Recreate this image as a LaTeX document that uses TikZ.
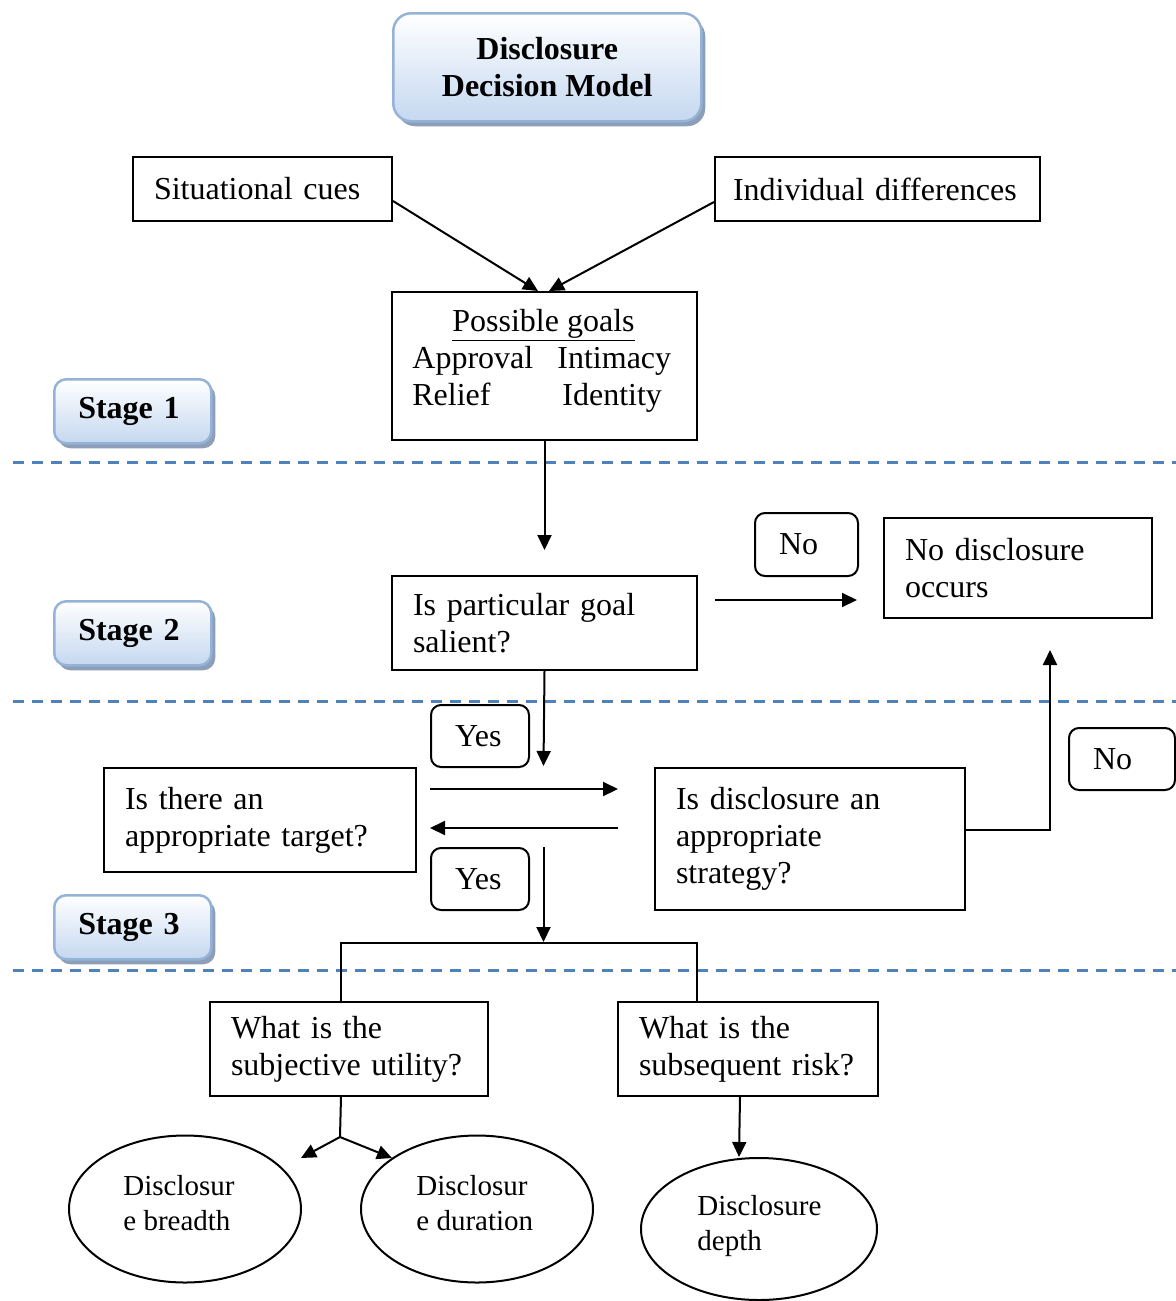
\documentclass[tikz,border=0pt]{standalone}
\usepackage{fontspec}
\setmainfont{Liberation Serif}
\usetikzlibrary{arrows.meta,shapes.geometric,shadows,calc}
\definecolor{dashblue}{RGB}{79,129,189}
\definecolor{edgeblue}{RGB}{149,179,215}
\definecolor{fillblue}{RGB}{197,216,240}
\definecolor{shadowc}{RGB}{140,158,184}
\begin{document}
\begin{tikzpicture}[x=0.5pt,y=-0.5pt,
  every node/.style={font=\fontsize{16}{18.5}\selectfont},
  box/.style={draw, line width=1pt, rectangle, anchor=north west, inner xsep=10.5pt, inner ysep=0pt, align=left,
    execute at begin node={\hyphenpenalty=10000\relax}},
  tag/.style={box, rounded corners=5pt, inner xsep=12pt},
  fancy/.style={draw=edgeblue, line width=1.25pt, rounded corners=#1, top color=white, bottom color=fillblue,
    drop shadow={shadow xshift=2pt,shadow yshift=-2.5pt,fill=shadowc,opacity=1},
    anchor=north west, font=\fontsize{16}{18.5}\selectfont\bfseries},
  oval/.style={draw, line width=1pt, ellipse, inner sep=0pt},
  ovaltext/.style={inner sep=0pt, font=\fontsize{14.5}{17.5}\selectfont, align=left},
  conn/.style={line width=1pt},
  arr/.style={conn, -{Triangle[length=7.5pt,width=7pt]}},
  sep/.style={dashblue, line width=1.5pt, dash pattern=on 5.5pt off 4pt}
]
\useasboundingbox (0,0) rectangle (1176,1301);

% separators
\draw[sep] (13,462) -- (1176,462);
\draw[sep] (13,701) -- (1176,701);
\draw[sep] (13,970) -- (1176,970);

% title and stages
\node[fancy=9pt, minimum width=154pt, minimum height=54pt, align=center, inner sep=0pt] (title) at (392,12) {Disclosure\\Decision Model};
\node[fancy=6pt, minimum height=32pt, inner xsep=12pt, inner ysep=0pt, text width=54.5pt, align=left] (st1) at (53,378) {Stage 1};
\node[fancy=6pt, minimum height=32pt, inner xsep=12pt, inner ysep=0pt, text width=54.5pt, align=left] (st2) at (53,600) {Stage 2};
\node[fancy=6pt, minimum height=32pt, inner xsep=12pt, inner ysep=0pt, text width=54.5pt, align=left] (st3) at (53,894) {Stage 3};

% boxes
\node[box, text width=108.5pt, minimum height=32pt] (sit) at (132,156) {Situational cues};
\node[box, inner xsep=9pt, text width=144.5pt, minimum height=32pt] (ind) at (714,156) {Individual differences};
\node[box, inner sep=0pt, minimum width=152.5pt, minimum height=74pt] (goals) at (391,291) {};
\node[anchor=base, inner sep=0pt] (pg) at (543.5,331) {\underline{Possible goals}};
\node[anchor=base west, inner sep=0pt] (g1) at (412,368) {Approval};
\node[anchor=base west, inner sep=0pt] (g2) at (557,368) {Intimacy};
\node[anchor=base west, inner sep=0pt] (g3) at (412,405) {Relief};
\node[anchor=base west, inner sep=0pt] (g4) at (562,405) {Identity};

\node[box, text width=131.5pt, minimum height=47pt] (sal) at (391,575) {Is particular goal\\salient?};
\node[box, text width=113pt, minimum height=50pt] (nod) at (883,517) {No disclosure\\occurs};
\node[box, text width=135pt, minimum height=52pt] (tgt) at (103,767) {Is there an\\appropriate target?};
\node[box, text width=134pt, minimum height=71pt] (strat) at (654,767) {Is disclosure an\\appropriate\\strategy?};
\node[box, text width=118pt, minimum height=47pt] (util) at (209,1001) {What is the\\subjective utility?};
\node[box, text width=109pt, minimum height=47pt] (risk) at (617,1001) {What is the\\subsequent risk?};

% tags
\node[tag, text width=27.5pt, minimum height=31.5pt] (no1) at (754,512) {No};
\node[tag, text width=29pt, minimum height=31pt] (no2) at (1068,727) {No};
\node[tag, text width=25pt, minimum height=31pt] (yes1) at (430,704) {Yes};
\node[tag, text width=25pt, minimum height=31pt] (yes2) at (430,847) {Yes};

% ellipses
\node[oval, minimum width=116pt, minimum height=73.5pt] (breadth) at (185,1209) {};
\node[ovaltext, anchor=west] (breadthT) at (123,1203) {Disclosur\\e breadth};
\node[oval, minimum width=116pt, minimum height=73.5pt] (duration) at (477,1209) {};
\node[ovaltext, anchor=west] (durationT) at (416,1203) {Disclosur\\e duration};
\node[oval, minimum width=118pt, minimum height=71pt] (depth) at (759,1229) {};
\node[ovaltext, anchor=west] (depthT) at (697,1226) {Disclosure\\depth};

% connectors
\draw[arr] ([yshift=-6pt]sit.east) -- ([xshift=-3.25pt]goals.north);
\draw[arr] ([yshift=-6.5pt]ind.west) -- ([xshift=2.25pt]goals.north);
\draw[arr] (goals.south) -- ([yshift=12.5pt]sal.north);

\coordinate (noA) at (715,600);
\coordinate (noB) at (857,600);
\draw[arr] (noA) -- (noB);

\coordinate (yesEnd) at (543.5,766);
\draw[arr] (sal.south) -- (yesEnd);

\coordinate (rA) at (430,789);
\coordinate (rB) at (618,789);
\draw[arr] (rA) -- (rB);
\coordinate (lA) at (618,828);
\coordinate (lB) at (430,828);
\draw[arr] (lA) -- (lB);

\coordinate (dA) at (543.5,847);
\coordinate (dB) at (543.5,942);
\draw[arr] (dA) -- (dB);

\coordinate (upEnd) at (1050,650);
\draw[arr] ([yshift=4.5pt]strat.east) -| (upEnd);

\draw[conn] ([xshift=-4pt]util.north) -- ++(0,-58) -| ([xshift=-25.5pt]risk.north);

\coordinate (fork) at (340,1137);
\coordinate (fL) at (301,1158);
\coordinate (fR) at (392,1158);
\draw[conn] ([xshift=-4pt]util.south) -- (fork);
\draw[arr] (fork) -- (fL);
\draw[arr] (fork) -- (fR);

\coordinate (dTop) at (739,1157);
\draw[arr] ([xshift=-4pt]risk.south) -- (dTop);
\end{tikzpicture}
\end{document}
